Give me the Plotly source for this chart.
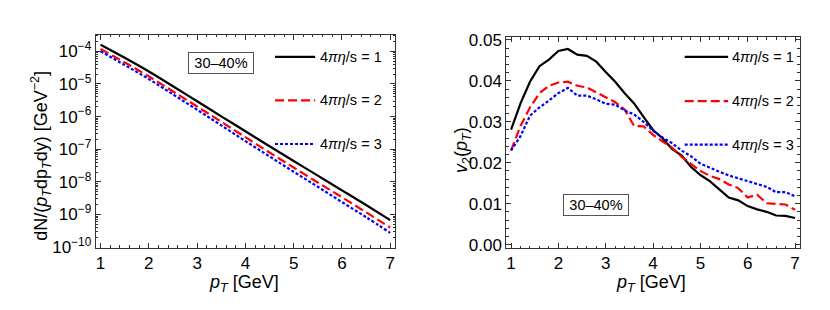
import plotly.graph_objects as go

# ---------------- data ----------------
pt_spec = [1.0, 1.5, 2.0, 2.5, 3.0, 3.5, 4.0, 4.5, 5.0, 5.5, 6.0, 6.5, 7.0]
spec_eta1 = [1.58e-4, 6.31e-5, 2.40e-5, 8.51e-6, 2.95e-6, 1.02e-6, 3.55e-7,
             1.23e-7, 4.37e-8, 1.55e-8, 5.50e-9, 1.95e-9, 6.76e-10]
spec_eta2 = [1.17e-4, 4.57e-5, 1.70e-5, 5.89e-6, 2.04e-6, 6.92e-7, 2.34e-7,
             7.94e-8, 2.75e-8, 9.55e-9, 3.39e-9, 1.17e-9, 3.98e-10]
spec_eta3 = [1.00e-4, 3.80e-5, 1.41e-5, 4.79e-6, 1.62e-6, 5.37e-7, 1.78e-7,
             6.03e-8, 2.04e-8, 7.08e-9, 2.40e-9, 8.32e-10, 2.75e-10]

pt_v2 = [1.0, 1.2, 1.4, 1.6, 1.8, 2.0, 2.2, 2.4, 2.6, 2.8, 3.0, 3.2, 3.4, 3.6, 3.8, 4.0,
         4.2, 4.4, 4.6, 4.8, 5.0, 5.2, 5.4, 5.6, 5.8, 6.0, 6.2, 6.4, 6.6, 6.8, 7.0]
v2_eta1 = [0.0281, 0.0345, 0.0398, 0.0436, 0.0452, 0.0473, 0.0478, 0.0464, 0.0461, 0.0447,
           0.0422, 0.0398, 0.0370, 0.0345, 0.0312, 0.0280, 0.0260, 0.0234, 0.0218, 0.0190,
           0.0170, 0.0155, 0.0135, 0.0115, 0.0108, 0.0094, 0.0086, 0.0080, 0.0071, 0.0070, 0.0065]
v2_eta2 = [0.0230, 0.0290, 0.0335, 0.0370, 0.0388, 0.0396, 0.0398, 0.0388, 0.0384, 0.0372,
           0.0358, 0.0348, 0.0330, 0.0290, 0.0289, 0.0268, 0.0252, 0.0237, 0.0215, 0.0197,
           0.0180, 0.0168, 0.0160, 0.0147, 0.0138, 0.0115, 0.0122, 0.0101, 0.0100, 0.0098, 0.0085]
v2_eta3 = [0.0230, 0.0265, 0.0315, 0.0335, 0.0352, 0.0370, 0.0383, 0.0364, 0.0364, 0.0355,
           0.0344, 0.0342, 0.0328, 0.0318, 0.0300, 0.0278, 0.0262, 0.0248, 0.0230, 0.0216,
           0.0198, 0.0187, 0.0178, 0.0169, 0.0162, 0.0155, 0.0148, 0.0141, 0.0128, 0.0128, 0.0118]

series_names = ["4<i>πη</i>/s = 1", "4<i>πη</i>/s = 2", "4<i>πη</i>/s = 3"]
centrality_label = "30–40%"
x_ticks = [1, 2, 3, 4, 5, 6, 7]
spec_ticks = [1e-10, 1e-9, 1e-8, 1e-7, 1e-6, 1e-5, 1e-4]
spec_tick_text = ["10<sup>−10</sup>", "10<sup>−9</sup>", "10<sup>−8</sup>", "10<sup>−7</sup>",
                  "10<sup>−6</sup>", "10<sup>−5</sup>", "10<sup>−4</sup>"]
v2_ticks = [0.00, 0.01, 0.02, 0.03, 0.04, 0.05]
v2_tick_text = ["0.00", "0.01", "0.02", "0.03", "0.04", "0.05"]

# ---------------- styles ----------------
colors = ["#000000", "#ff0000", "#0000ff"]
dashes = ["solid", "9px,4px", "3px,2px"]
FONT = "Liberation Sans, Arial, Helvetica, sans-serif"
FRAME = "#333333"

fig = go.Figure()
for vals, name, c, d in zip([spec_eta1, spec_eta2, spec_eta3], series_names, colors, dashes):
    fig.add_trace(go.Scatter(x=pt_spec, y=vals, mode="lines", name=name, showlegend=False,
                             line=dict(color=c, width=2.2, dash=d), line_shape="spline",
                             xaxis="x", yaxis="y"))
for vals, name, c, d in zip([v2_eta1, v2_eta2, v2_eta3], series_names, colors, dashes):
    fig.add_trace(go.Scatter(x=pt_v2, y=vals, mode="lines", name=name, showlegend=False,
                             line=dict(color=c, width=2.2, dash=d),
                             xaxis="x2", yaxis="y2"))

common = dict(showline=True, linecolor=FRAME, linewidth=1, mirror="allticks",
              ticks="inside", ticklen=5, tickcolor=FRAME, tickwidth=1,
              showgrid=False, zeroline=False,
              tickfont=dict(family=FONT, size=17, color="black"))

minor_log = [m * 10.0 ** e for e in range(-11, -3) for m in range(2, 10)]

fig.update_layout(
    width=830, height=310,
    margin=dict(l=0, r=0, t=0, b=0),
    paper_bgcolor="white", plot_bgcolor="white",
    font=dict(family=FONT, size=14, color="black"),
    xaxis=dict(domain=[0.1057, 0.4663], range=[0.9, 7.1], tickvals=x_ticks,
               minor=dict(ticks="inside", ticklen=2.5, dtick=0.2, tick0=1, tickcolor=FRAME),
               anchor="y", **common),
    yaxis=dict(domain=[0.2074, 0.930], type="log", range=[-10.02, -3.49],
               tickvals=spec_ticks, ticktext=spec_tick_text,
               minor=dict(ticks="inside", ticklen=2.5, tickvals=minor_log, tickcolor=FRAME),
               anchor="x", **common),
    xaxis2=dict(domain=[0.6004, 0.9539], range=[0.9, 7.1], tickvals=x_ticks,
                minor=dict(ticks="inside", ticklen=2.5, dtick=0.2, tick0=1, tickcolor=FRAME),
                anchor="y2", **common),
    yaxis2=dict(domain=[0.2065, 0.921], range=[-0.00086, 0.05065],
                tickvals=v2_ticks, ticktext=v2_tick_text,
                minor=dict(ticks="inside", ticklen=2.5, dtick=0.002, tick0=0, tickcolor=FRAME),
                anchor="x2", **common),
)

# axis titles
title_font = dict(family=FONT, size=18, color="black")
fig.add_annotation(text="dN/(<i>p</i><sub><i>T</i></sub>dp<sub><i>T</i></sub>dy) [GeV<sup>−2</sup>]",
                   xref="paper", yref="paper", x=33 / 830, y=1 - 149 / 310, textangle=-90,
                   showarrow=False, font=title_font, xanchor="center", yanchor="middle")
fig.add_annotation(text="<i>p</i><sub><i>T</i></sub> [GeV]", xref="paper", yref="paper",
                   x=236 / 830, y=1 - 283 / 310, showarrow=False, font=title_font,
                   xanchor="center", yanchor="middle")
fig.add_annotation(text="<i>v</i><sub>2</sub>(<i>p</i><sub><i>T</i></sub>)",
                   xref="paper", yref="paper", x=454 / 830, y=1 - 143 / 310, textangle=-90,
                   showarrow=False, font=title_font, xanchor="center", yanchor="middle")
fig.add_annotation(text="<i>p</i><sub><i>T</i></sub> [GeV]", xref="paper", yref="paper",
                   x=643 / 830, y=1 - 283 / 310, showarrow=False, font=title_font,
                   xanchor="center", yanchor="middle")

# centrality boxes
for xr, yr, bx, by in [("x domain", "y domain", 0.4186, 0.866), ("x2 domain", "y2 domain", 0.307, 0.206)]:
    fig.add_annotation(text=centrality_label, xref=xr, yref=yr, x=bx, y=by, showarrow=False,
                       font=dict(family=FONT, size=14.5, color="black"),
                       bordercolor="#555555", borderwidth=1, borderpad=2,
                       width=60, height=16, bgcolor="white",
                       xanchor="center", yanchor="middle")

# in-plot legends
legend_specs = [
    ("x domain", "y domain", 0.599, 0.733, 0.743, [0.896, 0.692, 0.487]),
    ("x2 domain", "y2 domain", 0.608, 0.756, 0.762, [0.907, 0.697, 0.491]),
]
for xr, yr, lx0, lx1, tx, ys in legend_specs:
    for name, c, d, yy in zip(series_names, colors, dashes, ys):
        fig.add_shape(type="line", xref=xr, yref=yr, x0=lx0, x1=lx1, y0=yy, y1=yy,
                      line=dict(color=c, width=2.2, dash=d))
        fig.add_annotation(text=name, xref=xr, yref=yr, x=tx, y=yy, showarrow=False,
                           font=dict(family=FONT, size=14.5, color="black"),
                           xanchor="left", yanchor="middle")

fig.write_html("out.html")
